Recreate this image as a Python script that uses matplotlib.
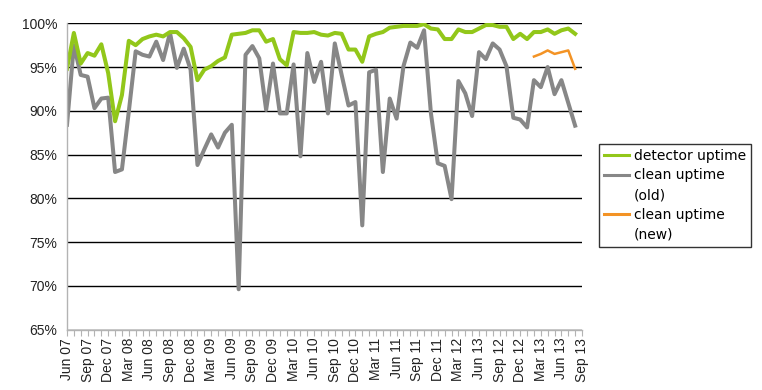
import numpy as np
import matplotlib
matplotlib.use("Agg")
import matplotlib.pyplot as plt
from matplotlib.lines import Line2D
from matplotlib.ticker import MultipleLocator, FuncFormatter

# ── Data (monthly, Jun 07 .. Aug 13) ────────────────────────────────────
detector_uptime = [
    94.8, 98.9, 95.4, 96.6, 96.3, 97.6, 94.3, 88.8, 91.8, 98.0,
    97.5, 98.2, 98.5, 98.7, 98.5, 99.0, 99.0, 98.3, 97.3, 93.5,
    94.7, 95.1, 95.7, 96.1, 98.7, 98.8, 98.9, 99.2, 99.2, 97.9,
    98.2, 95.9, 95.2, 99.0, 98.9, 98.9, 99.0, 98.7, 98.6, 98.9,
    98.8, 97.0, 97.0, 95.6, 98.5, 98.8, 99.0, 99.5, 99.6, 99.7,
    99.7, 99.7, 99.9, 99.4, 99.3, 98.2, 98.2, 99.3, 99.0, 99.0,
    99.4, 99.8, 99.8, 99.6, 99.6, 98.2, 98.8, 98.2, 99.0, 99.0,
    99.3, 98.8, 99.2, 99.4, 98.8,
]
clean_uptime_old = [
    88.4, 97.5, 94.1, 93.9, 90.3, 91.4, 91.5, 83.0, 83.3, 89.9,
    96.8, 96.4, 96.2, 97.9, 95.8, 98.9, 94.9, 97.1, 94.7, 83.8,
    85.6, 87.3, 85.8, 87.5, 88.4, 69.6, 96.4, 97.4, 96.0, 90.1,
    95.4, 89.7, 89.7, 95.3, 84.8, 96.6, 93.3, 95.6, 89.7, 97.7,
    94.1, 90.6, 91.0, 76.9, 94.4, 94.7, 83.0, 91.4, 89.1, 95.1,
    97.8, 97.2, 99.2, 89.7, 84.0, 83.7, 79.9, 93.4, 92.0, 89.4,
    96.7, 95.9, 97.7, 97.0, 95.1, 89.2, 89.0, 88.1, 93.5, 92.7,
    95.0, 91.9, 93.5, 90.9, 88.3,
]
# new cleaning only exists from Feb 13 on
clean_uptime_new_start = 68
clean_uptime_new = [96.2, 96.5, 96.9, 96.5, 96.7, 96.9, 94.8]

tick_labels = [
    "Jun 07", "Sep 07", "Dec 07", "Mar 08", "Jun 08", "Sep 08", "Dec 08",
    "Mar 09", "Jun 09", "Sep 09", "Dec 09", "Mar 10", "Jun 10", "Sep 10",
    "Dec 10", "Mar 11", "Jun 11", "Sep 11", "Dec 11", "Mar 12", "Jun 13",
    "Sep 12", "Dec 12", "Mar 13", "Jun 13", "Sep 13",
]

GREEN  = "#92c71a"
GREY   = "#878787"
ORANGE = "#f39325"

# ── Plot ────────────────────────────────────────────────────────────────
fig = plt.figure(figsize=(7.62, 3.90), dpi=100)
ax = fig.add_axes([67 / 762, 1 - 329.5 / 390, 515 / 762, (329.5 - 23.3) / 390])

x_old = np.arange(len(clean_uptime_old))
x_new = np.arange(len(clean_uptime_new)) + clean_uptime_new_start

for y in range(65, 101, 5):
    ax.axhline(y, color="black", linewidth=1.0, zorder=1)

ax.plot(np.arange(len(detector_uptime)), detector_uptime, color=GREEN,
        linewidth=2.9, zorder=3)
ax.plot(x_old, clean_uptime_old, color=GREY, linewidth=2.9, zorder=2)
ax.plot(x_new, clean_uptime_new, color=ORANGE, linewidth=1.8, zorder=3)

ax.set_xlim(0, 75)
ax.set_ylim(65, 100)

ax.yaxis.set_major_locator(MultipleLocator(5))
ax.yaxis.set_major_formatter(FuncFormatter(lambda v, p: f"{v:.0f}%"))
ax.tick_params(axis="y", length=0, pad=7, labelsize=10, labelcolor="#222222")

ax.set_xticks(np.arange(0, 76, 3))
ax.set_xticklabels(tick_labels, rotation=90, fontsize=10, color="#222222")
ax.xaxis.set_minor_locator(MultipleLocator(1))
ax.tick_params(axis="x", which="both", direction="out", length=4,
               width=0.8, color="#b3b3b3", pad=2)

for side in ("top", "right"):
    ax.spines[side].set_visible(False)
for side in ("left", "bottom"):
    ax.spines[side].set_color("#b3b3b3")
    ax.spines[side].set_linewidth(1.0)
    ax.spines[side].set_zorder(4)

for lbl in ax.get_xticklabels() + ax.get_yticklabels():
    lbl.set_family("Liberation Sans")

# legend: handle sits on the first line of a wrapped label
blank = Line2D([], [], color="none")
handles = [Line2D([], [], color=GREEN, linewidth=2.2),
           Line2D([], [], color=GREY, linewidth=2.2), blank,
           Line2D([], [], color=ORANGE, linewidth=2.2), blank]
labels = ["detector uptime", "clean uptime", "(old)", "clean uptime", "(new)"]
leg = fig.legend(handles, labels, loc="upper left",
                 bbox_to_anchor=(599 / 762, 1 - 144 / 390),
                 borderaxespad=0, frameon=True, fancybox=False,
                 edgecolor="black", handlelength=1.8,
                 handletextpad=0.4, labelspacing=0.42, borderpad=0.33,
                 prop={"family": "DejaVu Sans", "size": 10})
leg.get_frame().set_linewidth(1.0)

fig.savefig("out.png", dpi=100)
